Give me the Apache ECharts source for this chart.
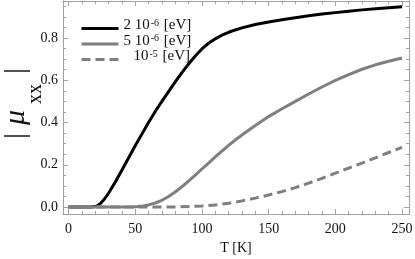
<!DOCTYPE html>
<html><head><meta charset="utf-8">
<script src="https://cdn.jsdelivr.net/npm/echarts@6/dist/echarts.min.js"></script>
<style>html,body{margin:0;padding:0;background:#fff}#c{width:415px;height:259px}</style>
</head><body><div id="c"></div>
<script>
// ---- data ----
const seriesNames = ['2 10^-6 [eV]', '5 10^-6 [eV]', '10^-5 [eV]'];
const yTitle = '|μxx|';
const xTitle = 'T [K]';
const xMajorTicks = [0, 50, 100, 150, 200, 250];
const xMinorTicks = [10,20,30,40,60,70,80,90,110,120,130,140,160,170,180,190,210,220,230,240];
const yMajorTicks = [0, 0.2, 0.4, 0.6, 0.8];
const yMinorTicks = [0.05,0.1,0.15,0.25,0.3,0.35,0.45,0.5,0.55,0.65,0.7,0.75,0.85,0.9,0.95];

const blackT = [0,10,17,20,22,24,27,30,35,40,45,50,55,60,65,70,75,80,85,90,95,100,105,110,115,120,125,130,140,150,160,170,180,190,200,210,220,230,240,250];
const blackV = [0,0,0,0.002,0.007,0.017,0.038,0.065,0.117,0.174,0.232,0.29,0.345,0.4,0.452,0.5,0.546,0.592,0.636,0.677,0.715,0.748,0.775,0.796,0.813,0.827,0.838,0.848,0.864,0.876,0.886,0.896,0.905,0.913,0.92,0.927,0.933,0.938,0.943,0.948];

const grayT = [0,20,40,48,52,56,60,65,70,75,80,85,90,95,100,105,110,115,120,125,130,140,150,160,170,180,190,200,210,220,230,240,250];
const grayV = [0,0,0,0,0.002,0.005,0.01,0.019,0.032,0.05,0.071,0.096,0.123,0.151,0.18,0.208,0.237,0.265,0.292,0.317,0.341,0.386,0.428,0.465,0.5,0.535,0.568,0.599,0.627,0.652,0.673,0.69,0.705];

const dashT = [0,40,80,90,100,110,120,130,140,150,160,170,180,190,200,210,220,230,240,250];
const dashV = [0,0,0,0.002,0.005,0.01,0.018,0.029,0.042,0.057,0.073,0.092,0.113,0.136,0.16,0.184,0.208,0.233,0.258,0.282];

const colors = ['#000000', '#7f7f7f', '#7f7f7f'];

// ---- chart ----
const XMIN = -4.1, XMAX = 255.2, YMIN = -0.033, YMAX = 0.975;
const FF = 'Liberation Serif';
const frame = '#a0a0a0';

function pairs(t, v) { return t.map((x, i) => [x, v[i]]); }

function xAx(pos, ticks, len, labels) {
  return {
    type: 'value', min: XMIN, max: XMAX, position: pos,
    axisLine: { show: true, onZero: false, lineStyle: { color: frame, width: 1 } },
    axisTick: { show: true, inside: true, length: len, customValues: ticks, lineStyle: { color: frame } },
    axisLabel: labels ? { show: true, customValues: ticks, margin: 8, color: '#111', fontFamily: FF, fontSize: 14 } : { show: false },
    splitLine: { show: false }
  };
}
function yAx(pos, ticks, len, labels) {
  return {
    type: 'value', min: YMIN, max: YMAX, position: pos,
    axisLine: { show: true, onZero: false, lineStyle: { color: frame, width: 1 } },
    axisTick: { show: true, inside: true, length: len, customValues: ticks, lineStyle: { color: frame } },
    axisLabel: labels ? { show: true, customValues: ticks, margin: 5, color: '#111', fontFamily: FF, fontSize: 14,
      formatter: v => v.toFixed(1) } : { show: false },
    splitLine: { show: false }
  };
}

const xAxes = [xAx('bottom', xMajorTicks, 5, true), xAx('bottom', xMinorTicks, 3, false),
               xAx('top', xMajorTicks, 5, false), xAx('top', xMinorTicks, 3, false)];
xAxes[0].name = xTitle;
xAxes[0].nameLocation = 'middle';
xAxes[0].nameGap = 18;
xAxes[0].nameTextStyle = { fontFamily: FF, fontSize: 14, color: '#111' };

const yAxes = [yAx('left', yMajorTicks, 5, true), yAx('left', yMinorTicks, 3, false),
               yAx('right', yMajorTicks, 5, false), yAx('right', yMinorTicks, 3, false)];

const seriesData = [pairs(blackT, blackV), pairs(grayT, grayV), pairs(dashT, dashV)];

// y title |μ_xx| as rich text: bar, mu, subscript xx, bar
const yt = yTitle.match(/^(\|)(μ)(xx)(\|)$/);
const yTitleRich = '{b1|' + yt[1] + '}{m|' + yt[2] + '}{x|' + yt[3] + '}{b2|' + yt[4] + '}';

const chart = echarts.init(document.getElementById('c'), null, { renderer: 'canvas' });
chart.setOption({
  animation: false,
  backgroundColor: '#fff',
  grid: { left: 63, right: 6, top: 1, bottom: 45, containLabel: false, outerBoundsMode: 'none' },
  xAxis: xAxes,
  yAxis: yAxes,
  graphic: [{
    type: 'text', x: 16, y: 103.5, rotation: Math.PI / 2,
    style: {
      text: yTitleRich, align: 'center', verticalAlign: 'middle', fill: '#111',
      fontFamily: FF, fontSize: 20,
      rich: {
        b1: { fontFamily: FF, fontSize: 30, lineHeight: 30, verticalAlign: 'top', padding: [0, 6, 0, 0], fill: '#111' },
        b2: { fontFamily: FF, fontSize: 30, lineHeight: 30, verticalAlign: 'top', padding: [0, 0, 0, 0], fill: '#111' },
        m: { fontFamily: FF, fontSize: 30, fontStyle: 'italic', lineHeight: 30, verticalAlign: 'top', padding: [0, 6, 0, 2], fill: '#111' },
        x: { fontFamily: FF, fontSize: 20, lineHeight: 20, verticalAlign: 'top', padding: [25, 10, 0, 0], fill: '#111' }
      }
    }
  }],
  legend: {
    left: 80, top: 18, orient: 'vertical', padding: 0, itemGap: -2.5,
    itemWidth: 37, itemHeight: 12,
    itemStyle: { opacity: 0 },
    lineStyle: { width: 3 },
    data: seriesNames,
    formatter: function (name) {
      const m = name.match(/^(.*?)\^(-\d+)(.*)$/);
      const lead = m[1].startsWith('10') ? 'p' : 'n';
      return '{' + lead + '|' + m[1] + '}{s|' + m[2] + '}{n|' + m[3] + '}';
    },
    textStyle: {
      fontFamily: FF, fontSize: 15, color: '#111', padding: [0, 0, 6, 0],
      rich: {
        n: { fontFamily: FF, fontSize: 15, lineHeight: 15, verticalAlign: 'bottom', color: '#111' },
        p: { fontFamily: FF, fontSize: 15, lineHeight: 15, verticalAlign: 'bottom', padding: [0, 0, 0, 10], color: '#111' },
        s: { fontFamily: FF, fontSize: 10, lineHeight: 10, verticalAlign: 'top', padding: [0, 1, 8, 1], color: '#111' }
      }
    }
  },
  series: seriesData.map((d, i) => ({
    name: seriesNames[i], type: 'line', data: d, symbol: 'none',
    smooth: false,
    xAxisIndex: 0, yAxisIndex: 0,
    lineStyle: { color: colors[i], width: 3, type: i === 2 ? [9, 5] : 'solid', cap: 'butt', join: 'round' },
    itemStyle: { color: colors[i] },
    z: 2 + i
  }))
});
</script></body></html>
